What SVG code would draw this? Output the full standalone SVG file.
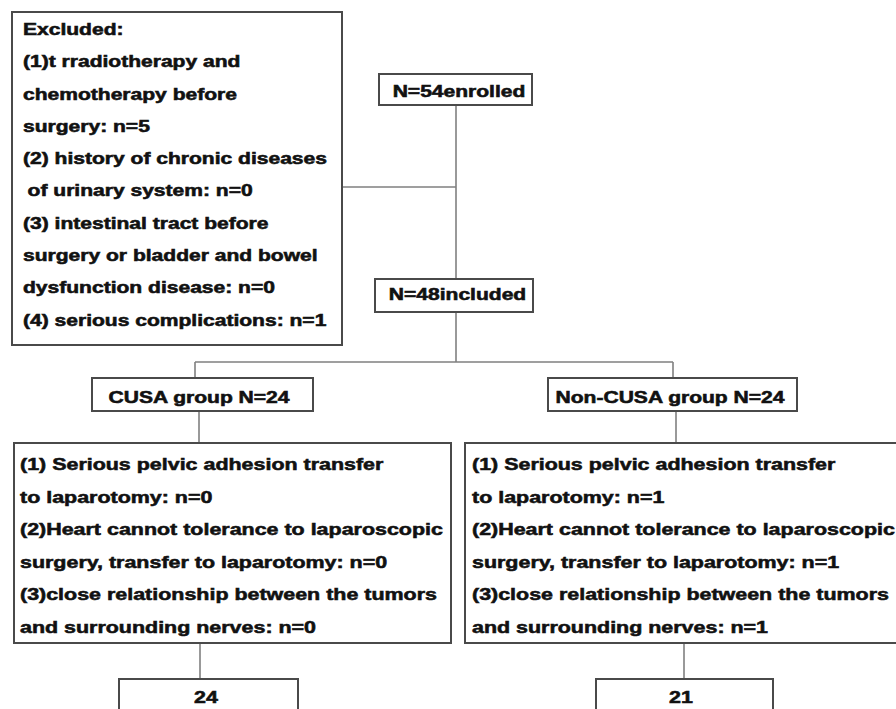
<svg xmlns="http://www.w3.org/2000/svg" width="896" height="709" viewBox="0 0 896 709">
<style>
.box{fill:#fff;stroke:#4a4a4a;stroke-width:2}
.ln{fill:none;stroke:#808080;stroke-width:1.6}
text{font-family:"Liberation Sans",Arial,sans-serif;font-weight:bold;fill:#111;stroke:#111;stroke-width:0.55}
.t16{font-size:16px}
.t165{font-size:16.5px}
.mid{text-anchor:middle}
</style>
<rect width="896" height="709" fill="#fff"/>
<g id="connectors">
<path class="ln" d="M456 106V279M342 187H456M456 312V362M195 362H673M195 362V378M673 362V378M199 411V443M676 411V443M200 643V679M684 643V679"/>
</g>
<g id="excluded">
<rect class="box" x="12" y="12" width="330" height="333"/>
<text class="t16" transform="translate(23 0) scale(1.315 1)">
<tspan x="0" y="35">Excluded:</tspan>
<tspan x="0" y="67.3">(1)t rradiotherapy and</tspan>
<tspan x="0" y="99.6">chemotherapy before</tspan>
<tspan x="0" y="131.9">surgery: n=5</tspan>
<tspan x="0" y="164.2">(2) history of chronic diseases</tspan>
<tspan x="3.5" y="196.5">of urinary system: n=0</tspan>
<tspan x="0" y="228.8">(3) intestinal tract before</tspan>
<tspan x="0" y="261.1">surgery or bladder and bowel</tspan>
<tspan x="0" y="293.4">dysfunction disease: n=0</tspan>
<tspan x="0" y="325.7">(4) serious complications: n=1</tspan>
</text>
</g>
<g id="enrolled">
<rect class="box" x="379" y="74" width="153" height="31"/>
<text class="t16 mid" transform="translate(459 97) scale(1.315 1)">N=54enrolled</text>
</g>
<g id="included">
<rect class="box" x="375" y="279" width="158" height="33"/>
<text class="t16 mid" transform="translate(457.5 300) scale(1.315 1)">N=48included</text>
</g>
<g id="cusa">
<rect class="box" x="92" y="378" width="221" height="33"/>
<text class="t16 mid" transform="translate(199 403) scale(1.315 1)">CUSA group N=24</text>
</g>
<g id="noncusa">
<rect class="box" x="548" y="378" width="249" height="33"/>
<text class="t16 mid" transform="translate(670 403) scale(1.315 1)">Non-CUSA group N=24</text>
</g>
<g id="cusa-details">
<rect class="box" x="14" y="443" width="437" height="200"/>
<text class="t165" transform="translate(20 0) scale(1.3 1)">
<tspan x="0" y="470">(1) Serious pelvic adhesion transfer</tspan>
<tspan x="0" y="503">to laparotomy: n=0</tspan>
<tspan x="0" y="535">(2)Heart cannot tolerance to laparoscopic</tspan>
<tspan x="0" y="568">surgery, transfer to laparotomy: n=0</tspan>
<tspan x="0" y="600">(3)close relationship between the tumors</tspan>
<tspan x="0" y="633">and surrounding nerves: n=0</tspan>
</text>
</g>
<g id="noncusa-details">
<rect class="box" x="465" y="443" width="440" height="200"/>
<text class="t165" transform="translate(472 0) scale(1.3 1)">
<tspan x="0" y="470">(1) Serious pelvic adhesion transfer</tspan>
<tspan x="0" y="503">to laparotomy: n=1</tspan>
<tspan x="0" y="535">(2)Heart cannot tolerance to laparoscopic</tspan>
<tspan x="0" y="568">surgery, transfer to laparotomy: n=1</tspan>
<tspan x="0" y="600">(3)close relationship between the tumors</tspan>
<tspan x="0" y="633">and surrounding nerves: n=1</tspan>
</text>
</g>
<g id="cusa-final">
<rect class="box" x="119" y="679" width="179" height="40"/>
<text class="t165 mid" transform="translate(206 703) scale(1.3 1)">24</text>
</g>
<g id="noncusa-final">
<rect class="box" x="596" y="679" width="177" height="40"/>
<text class="t165 mid" transform="translate(681 703) scale(1.3 1)">21</text>
</g>
</svg>
